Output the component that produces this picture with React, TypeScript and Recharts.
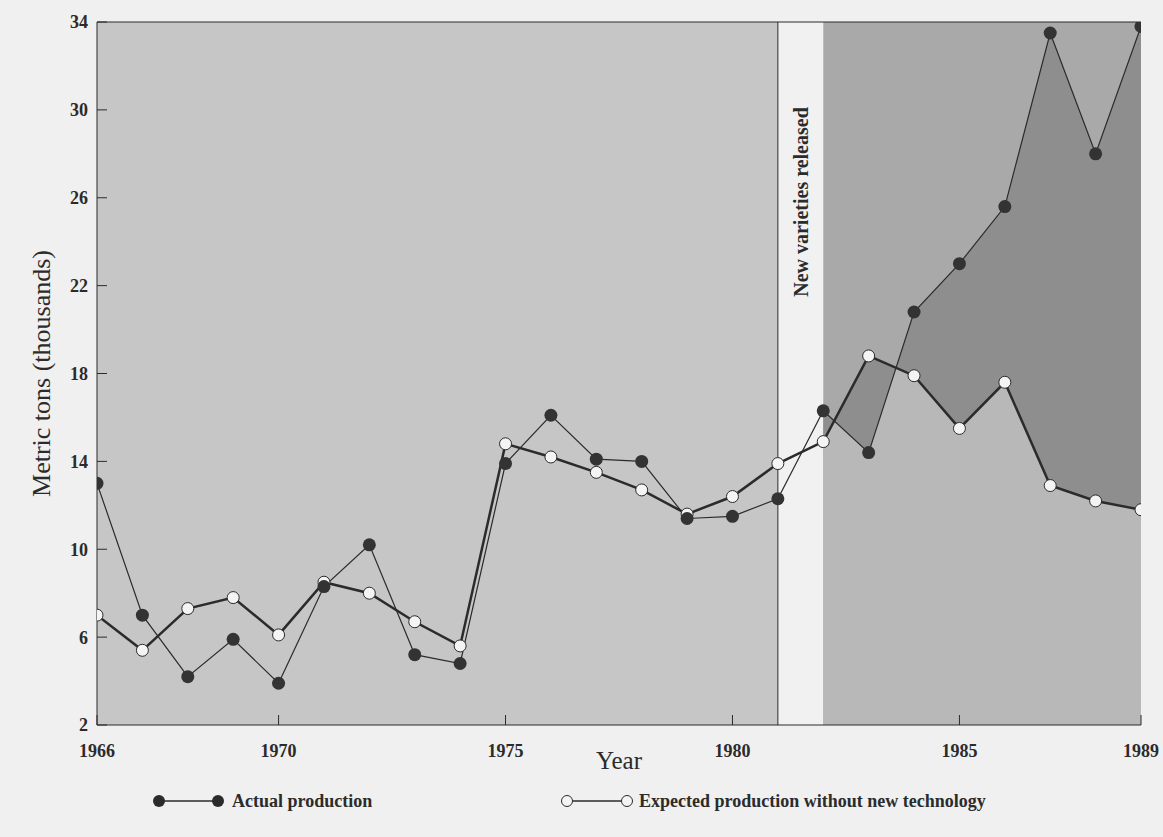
import React from 'react';
import {
  ComposedChart,
  Line,
  Area,
  XAxis,
  YAxis,
  ReferenceArea,
  ReferenceLine,
  Label,
} from 'recharts';

// values (thousand metric tons)
const YEARS = [
  1966, 1967, 1968, 1969, 1970, 1971, 1972, 1973, 1974, 1975, 1976, 1977,
  1978, 1979, 1980, 1981, 1982, 1983, 1984, 1985, 1986, 1987, 1988, 1989,
];
const ACTUAL = [
  13.0, 7.0, 4.2, 5.9, 3.9, 8.3, 10.2, 5.2, 4.8, 13.9, 16.1, 14.1,
  14.0, 11.4, 11.5, 12.3, 16.3, 14.4, 20.8, 23.0, 25.6, 33.5, 28.0, 33.8,
];
const EXPECTED = [
  7.0, 5.4, 7.3, 7.8, 6.1, 8.5, 8.0, 6.7, 5.6, 14.8, 14.2, 13.5,
  12.7, 11.6, 12.4, 13.9, 14.9, 18.8, 17.9, 15.5, 17.6, 12.9, 12.2, 11.8,
];
const X_TICKS = [1966, 1970, 1975, 1980, 1985, 1989];
const Y_TICKS = [2, 6, 10, 14, 18, 22, 26, 30, 34];
const RELEASE_START = 1981;
const RELEASE_END = 1982;

const data = YEARS.map((year, i) => ({
  year,
  actual: ACTUAL[i],
  expected: EXPECTED[i],
}));

const FONT = '"Liberation Serif", "DejaVu Serif", serif';
const INK = '#2b2b2b';

const afterRelease = (d: any) => (d.year >= RELEASE_END ? d.expected : null);
const gapBand = (d: any) => (d.year >= RELEASE_END ? [d.expected, d.actual] : null);

const tickStyle = { fontFamily: FONT, fontSize: 18, fontWeight: 700, fill: INK };

const LegendRow = () => (
  <svg width={1163} height={40} style={{ position: 'absolute', left: 0, top: 781 }}>
    <g>
      <line x1={159} y1={20} x2={218} y2={20} stroke={INK} strokeWidth={1.5} />
      <circle cx={159} cy={20} r={6} fill={INK} />
      <circle cx={218} cy={20} r={6} fill={INK} />
      <text x={232} y={26} fontFamily={FONT} fontSize={18} fontWeight={700} fill={INK}>
        Actual production
      </text>
    </g>
    <g>
      <line x1={567} y1={20} x2={627} y2={20} stroke={INK} strokeWidth={1.5} />
      <circle cx={567} cy={20} r={5.5} fill="#f4f4f4" stroke={INK} strokeWidth={1} />
      <circle cx={627} cy={20} r={5.5} fill="#f4f4f4" stroke={INK} strokeWidth={1} />
      <text x={639} y={26} fontFamily={FONT} fontSize={18} fontWeight={700} fill={INK}>
        Expected production without new technology
      </text>
    </g>
  </svg>
);

export default function App() {
  return (
    <div
      style={{
        position: 'absolute',
        left: 0,
        top: 0,
        width: 1163,
        height: 837,
        background: '#f0f0f0',
        fontFamily: FONT,
      }}
    >
      <ComposedChart
        width={1163}
        height={837}
        data={data}
        margin={{ top: 22, right: 22, bottom: 68, left: 37 }}
      >
        {/* period shading */}
        <ReferenceArea x1={1966} x2={RELEASE_START} y1={2} y2={34} fill="#c6c6c6" fillOpacity={1} />
        <ReferenceArea x1={RELEASE_START} x2={RELEASE_END} y1={2} y2={34} fill="#f1f1f1" fillOpacity={1}>
          <Label
            content={({ viewBox }: any) => {
              const cx = viewBox.x + viewBox.width / 2;
              const cy = viewBox.y + 180;
              return (
                <text
                  x={cx}
                  y={cy}
                  transform={`rotate(-90, ${cx}, ${cy})`}
                  textAnchor="middle"
                  dominantBaseline="central"
                  fontFamily={FONT}
                  fontSize={20}
                  fontWeight={700}
                  fill={INK}
                >
                  New varieties released
                </text>
              );
            }}
          />
        </ReferenceArea>
        <ReferenceArea x1={RELEASE_END} x2={1989} y1={2} y2={34} fill="#a9a9a9" fillOpacity={1} />

        <Area
          dataKey={afterRelease}
          baseValue={2}
          stroke="none"
          fill="#b8b8b8"
          fillOpacity={1}
          isAnimationActive={false}
          activeDot={false}
        />
        <Area
          dataKey={gapBand}
          stroke="none"
          fill="#8e8e8e"
          fillOpacity={1}
          isAnimationActive={false}
          activeDot={false}
        />

        <ReferenceLine x={RELEASE_START} stroke={INK} strokeWidth={1} />
        <ReferenceLine y={34} stroke={INK} strokeWidth={1} />

        <XAxis
          dataKey="year"
          type="number"
          domain={[1966, 1989]}
          ticks={X_TICKS}
          allowDataOverflow
          height={44}
          stroke={INK}
          tickSize={-10}
          tickMargin={29}
          tick={tickStyle}
        >
          <Label
            value="Year"
            position="insideBottom"
            offset={0}
            style={{ fontFamily: FONT, fontSize: 25, fill: INK }}
          />
        </XAxis>
        <YAxis
          type="number"
          domain={[2, 34]}
          ticks={Y_TICKS}
          allowDataOverflow
          width={60}
          stroke={INK}
          tickSize={-10}
          tickMargin={19}
          tick={tickStyle}
        >
          <Label
            value="Metric tons (thousands)"
            angle={-90}
            position="insideLeft"
            offset={4}
            style={{ fontFamily: FONT, fontSize: 26, fill: INK, textAnchor: 'middle' }}
          />
        </YAxis>

        <Line
          dataKey="expected"
          stroke={INK}
          strokeWidth={2.5}
          dot={{ r: 6, fill: '#f4f4f4', stroke: INK, strokeWidth: 1 }}
          activeDot={false}
          isAnimationActive={false}
        />
        <Line
          dataKey="actual"
          stroke={INK}
          strokeWidth={1.2}
          dot={{ r: 6.5, fill: '#333333', stroke: 'none' }}
          activeDot={false}
          isAnimationActive={false}
        />
      </ComposedChart>
      <LegendRow />
    </div>
  );
}
